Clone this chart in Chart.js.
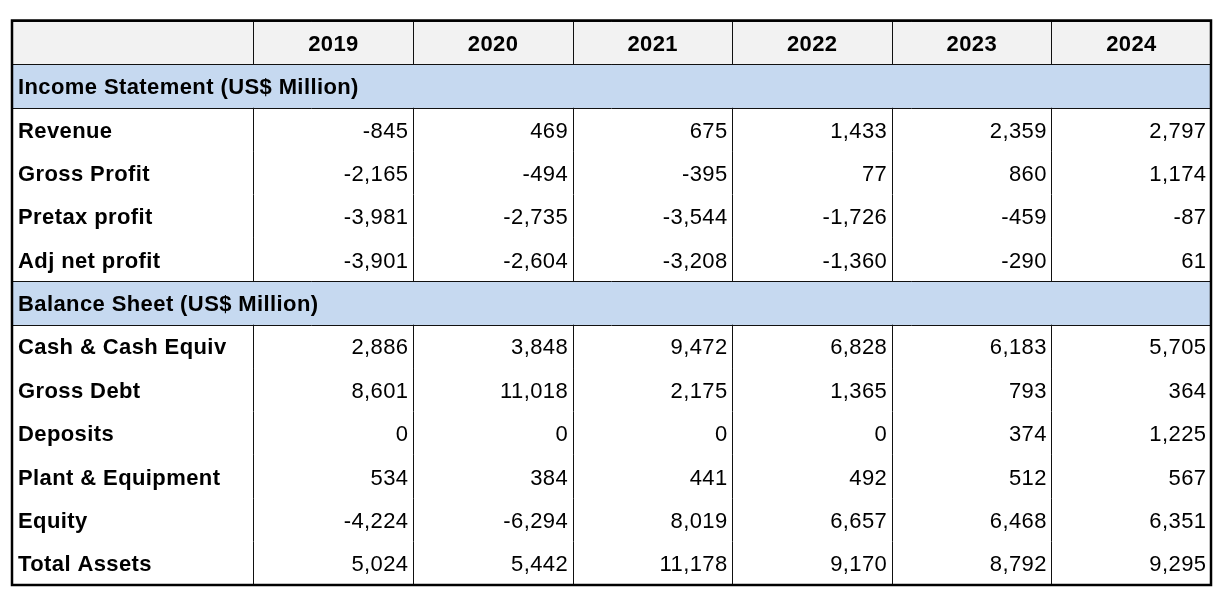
<!DOCTYPE html>
<html><head><meta charset="utf-8">
<script src="https://cdn.jsdelivr.net/npm/chart.js@4"></script>
<style>html,body{margin:0;padding:0;background:#fff}#wrap{width:1224px;height:600px}</style>
</head><body><div id="wrap"><canvas id="c" width="1224" height="600"></canvas></div>
<script>
const years = ['2019','2020','2021','2022','2023','2024'];
const incomeTitle = 'Income Statement (US$ Million)';
const balanceTitle = 'Balance Sheet (US$ Million)';
const incomeLabels = ['Revenue','Gross Profit','Pretax profit','Adj net profit'];
const revenue = [-845, 469, 675, 1433, 2359, 2797];
const grossProfit = [-2165, -494, -395, 77, 860, 1174];
const pretaxProfit = [-3981, -2735, -3544, -1726, -459, -87];
const adjNetProfit = [-3901, -2604, -3208, -1360, -290, 61];
const balanceLabels = ['Cash & Cash Equiv','Gross Debt','Deposits','Plant & Equipment','Equity','Total Assets'];
const cashEquiv = [2886, 3848, 9472, 6828, 6183, 5705];
const grossDebt = [8601, 11018, 2175, 1365, 793, 364];
const deposits = [0, 0, 0, 0, 374, 1225];
const plantEquipment = [534, 384, 441, 492, 512, 567];
const equity = [-4224, -6294, 8019, 6657, 6468, 6351];
const totalAssets = [5024, 5442, 11178, 9170, 8792, 9295];

const incomeValues = [revenue, grossProfit, pretaxProfit, adjNetProfit];
const balanceValues = [cashEquiv, grossDebt, deposits, plantEquipment, equity, totalAssets];

const rows = [{type:'header'}, {type:'section', text: incomeTitle}];
incomeLabels.forEach((l,i)=>rows.push({type:'data', label:l, values: incomeValues[i]}));
rows.push({type:'section', text: balanceTitle});
balanceLabels.forEach((l,i)=>rows.push({type:'data', label:l, values: balanceValues[i]}));

const LABEL_COL = 241.5/159.6; // width of the label column relative to a year column
const TOTAL = LABEL_COL + years.length;
const bounds = [0, LABEL_COL].concat(years.map((_,i)=>LABEL_COL + i + 1));
const FONT = '"Liberation Sans", Arial, Helvetica, sans-serif';
const SIZE = '22px ';
const SPACING = 0.4;

const tablePlugin = {
  id: 'tablePlugin',
  afterDatasetsDraw(chart) {
    const ctx = chart.ctx;
    const xs = chart.scales.x, ys = chart.scales.y;
    const area = chart.chartArea;
    const rowH = (area.bottom - area.top) / rows.length;
    const px = v => xs.getPixelForValue(v);
    const snap = v => Math.round(v) + 0.5;
    ctx.save();
    ctx.strokeStyle = '#111';
    ctx.lineWidth = 1;
    if ('letterSpacing' in ctx) ctx.letterSpacing = SPACING + 'px';
    rows.forEach((r, i) => {
      const cy = ys.getPixelForValue(i);
      const top = cy - rowH/2, bot = cy + rowH/2;
      const ty = cy + 2;
      ctx.beginPath();
      if (r.type !== 'section') {
        for (let k = 1; k < bounds.length - 1; k++) {
          const x = snap(px(bounds[k]));
          ctx.moveTo(x, top); ctx.lineTo(x, bot);
        }
      }
      if (r.type !== 'data') {
        ctx.moveTo(area.left, snap(top)); ctx.lineTo(area.right, snap(top));
        ctx.moveTo(area.left, snap(bot)); ctx.lineTo(area.right, snap(bot));
      }
      ctx.stroke();
      ctx.fillStyle = '#000';
      ctx.textBaseline = 'middle';
      if (r.type === 'header') {
        ctx.font = 'bold ' + SIZE + FONT;
        ctx.textAlign = 'center';
        years.forEach((y, k) => {
          ctx.fillText(y, (px(bounds[k+1]) + px(bounds[k+2])) / 2 + SPACING/2, ty);
        });
      } else if (r.type === 'section') {
        ctx.font = 'bold ' + SIZE + FONT;
        ctx.textAlign = 'left';
        ctx.fillText(r.text, area.left + 6, ty);
      } else {
        ctx.font = 'bold ' + SIZE + FONT;
        ctx.textAlign = 'left';
        ctx.fillText(r.label, area.left + 6, ty);
        ctx.font = SIZE + FONT;
        ctx.textAlign = 'right';
        r.values.forEach((v, k) => {
          ctx.fillText(v.toLocaleString('en-US'), px(bounds[k+2]) - 5 + SPACING, ty);
        });
      }
    });
    ctx.lineWidth = 2.5;
    ctx.strokeStyle = '#000';
    ctx.strokeRect(area.left, area.top - 0.5, area.right - area.left, area.bottom - area.top + 0.5);
    ctx.restore();
  }
};

new Chart(document.getElementById('c'), {
  type: 'bar',
  data: {
    labels: rows.map((r, i) => String(i)),
    datasets: [{
      data: rows.map(r => r.type === 'data' ? null : [0, TOTAL]),
      backgroundColor: rows.map(r => r.type === 'header' ? '#f2f2f2' : '#c6d9f0'),
      borderWidth: 0,
      barPercentage: 1,
      categoryPercentage: 1
    }]
  },
  options: {
    indexAxis: 'y',
    responsive: false,
    animation: false,
    layout: { padding: { left: 12, right: 13, top: 21, bottom: 15 } },
    scales: {
      x: { type: 'linear', min: 0, max: TOTAL, display: false },
      y: { type: 'category', display: false, offset: true }
    },
    plugins: { legend: { display: false }, tooltip: { enabled: false } }
  },
  plugins: [tablePlugin]
});
</script>
</body></html>
